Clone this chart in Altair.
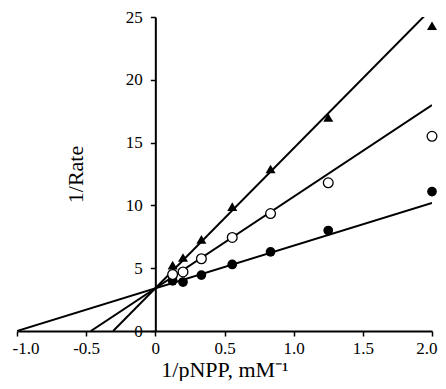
import altair as alt
import pandas as pd

# 1/[pNPP] values (mM^-1)
x_vals = [0.125, 0.2, 0.333, 0.556, 0.833, 1.25, 2.0]
# 1/Rate for the three series
filled_circle = [4.0, 3.9, 4.45, 5.3, 6.3, 8.0, 11.1]
open_circle = [4.5, 4.7, 5.75, 7.45, 9.35, 11.8, 15.5]
triangle = [5.25, 5.85, 7.3, 9.9, 12.9, 17.0, 24.3]
series_names = ["filled", "open", "triangle"]

# fitted lines: common y-intercept, per-series x-intercepts
y_intercept = 3.4
x_intercepts = [-1.0, -0.466, -0.305]
x_end = 2.0

x_ticks = [-1.0, -0.5, 0, 0.5, 1.0, 1.5, 2.0]
y_ticks = [0, 5, 10, 15, 20, 25]

FONT = "Liberation Serif"
W, H = 415, 314

pts = pd.DataFrame(
    [{"x": x, "y": y, "s": "filled"} for x, y in zip(x_vals, filled_circle)]
    + [{"x": x, "y": y, "s": "open"} for x, y in zip(x_vals, open_circle)]
    + [{"x": x, "y": y, "s": "triangle"} for x, y in zip(x_vals, triangle)]
)

line_rows = []
for name, xi in zip(series_names, x_intercepts):
    for xx in (xi, x_end):
        line_rows.append({"x": xx, "y": y_intercept * (1 - xx / xi), "s": name})
lines = pd.DataFrame(line_rows)

xscale = alt.Scale(domain=[-1.0, 2.0], nice=False, zero=False)
yscale = alt.Scale(domain=[0, 25], nice=False)

xaxis = alt.Axis(
    values=x_ticks,
    labelExpr="datum.value == 0 ? '0' : (datum.value < 0 ? '-' + format(-datum.value, '.1f') : format(datum.value, '.1f'))",
    title="1/pNPP, mM\u207b\u00b9",
    grid=False,
    labelFlush=True,
    labelFlushOffset=5,
    labelPadding=4,
    titlePadding=3,
)
yaxis = alt.Axis(
    values=y_ticks,
    format="d",
    title="1/Rate",
    grid=False,
    offset=-W / 3,
    labelPadding=8,
    titlePadding=38,
)

base_x = alt.X("x:Q", scale=xscale, axis=xaxis)
base_y = alt.Y("y:Q", scale=yscale, axis=yaxis)

line_layer = alt.Chart(lines).mark_line(color="black", strokeWidth=2, clip=True).encode(
    x=base_x, y=base_y, detail="s:N"
)

filled_layer = alt.Chart(pts).transform_filter("datum.s == 'filled'").mark_point(
    shape="circle", filled=True, color="black", size=95, opacity=1
).encode(x=base_x, y=base_y)

open_layer = alt.Chart(pts).transform_filter("datum.s == 'open'").mark_point(
    shape="circle", filled=True, fill="white", stroke="black", strokeWidth=1.3, size=95, opacity=1
).encode(x=base_x, y=base_y)

tri_layer = alt.Chart(pts).transform_filter("datum.s == 'triangle'").mark_point(
    shape="triangle-up", filled=True, color="black", size=100, opacity=1
).encode(x=base_x, y=base_y)

chart = (
    alt.layer(line_layer, filled_layer, open_layer, tri_layer)
    .properties(
        width=W,
        height=H,
        autosize=alt.AutoSizeParams(type="none"),
        padding={"left": 9, "top": 9, "right": 6, "bottom": 50},
    )
    .configure_view(strokeWidth=0)
    .configure_axis(
        domainColor="black",
        domainWidth=2,
        tickColor="black",
        tickWidth=1.5,
        tickSize=5,
        labelFont=FONT,
        labelFontSize=17,
        labelColor="black",
        titleFont=FONT,
        titleFontSize=22,
        titleFontWeight="normal",
        titleColor="black",
    )
)

chart.save("out.html", embed_options={"renderer": "svg", "actions": False})
